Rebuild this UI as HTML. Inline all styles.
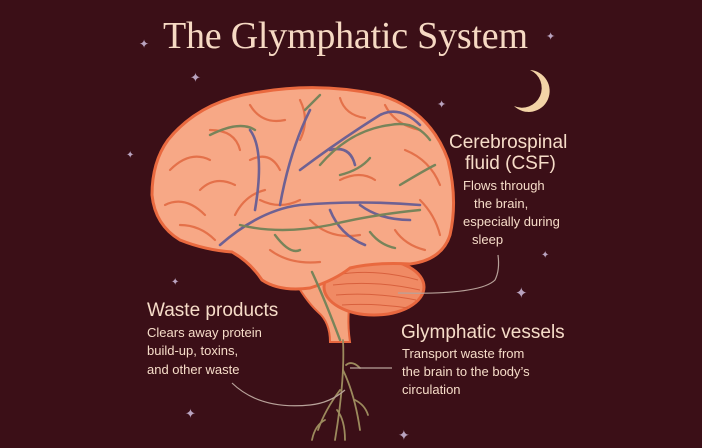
<!DOCTYPE html>
<html><head><meta charset="utf-8"><style>
html,body{margin:0;padding:0;background:#3b0f17;}
svg{display:block}
</style></head><body>
<svg width="702" height="448" viewBox="0 0 702 448" xmlns="http://www.w3.org/2000/svg">
<rect width="702" height="448" fill="#3b0f17"/>
<text x="163" y="48" font-family="Liberation Serif, serif" font-size="38" fill="#f6d9c3" textLength="365">The Glymphatic System</text>
<g fill="#b9a3bf">
<text x="139" y="48" font-size="12">✦</text>
<text x="190" y="82" font-size="13">✦</text>
<text x="546" y="40" font-size="11">✦</text>
<text x="437" y="108" font-size="11">✦</text>
<text x="126" y="158" font-size="10">✦</text>
<text x="515" y="298" font-size="15">✦</text>
<text x="541" y="258" font-size="10">✦</text>
<text x="171" y="285" font-size="10">✦</text>
<text x="185" y="418" font-size="13">✦</text>
<text x="398" y="440" font-size="14">✦</text>
</g>
<path d="M530 70 A21 21 0 1 1 514 106 A17 17 0 1 0 530 70Z" fill="#f3d3a6"/>
<!-- brainstem -->
<path d="M292 276 Q305 300 318 312 Q330 322 330 342 L350 342 Q346 315 352 290 L345 268Z" fill="#f5a37e" stroke="#e7673f" stroke-width="2"/>
<!-- cerebellum -->
<ellipse cx="374" cy="287" rx="50" ry="28" fill="#f08a64" stroke="#e7673f" stroke-width="3"/>
<g stroke="#d8603d" stroke-width="1" fill="none">
<path d="M335 275 Q375 268 418 280"/><path d="M333 285 Q375 280 420 290"/><path d="M336 295 Q375 292 416 300"/><path d="M342 305 Q375 303 408 308"/>
</g>
<!-- cerebrum -->
<path d="M168 140 Q200 100 260 92 Q320 82 380 95 Q430 110 448 160 Q458 200 450 235 Q442 260 410 264 Q375 262 350 268 Q335 280 310 288 Q280 292 262 280 Q250 262 232 252 Q205 250 180 240 Q155 225 152 195 Q152 162 168 140 Z" fill="#f7a886" stroke="#e9693f" stroke-width="3"/>
<g stroke="#e4714a" stroke-width="2.2" fill="none" stroke-linecap="round">
<path d="M170 170 Q190 150 210 160"/><path d="M165 205 Q185 195 205 215"/><path d="M200 190 Q215 175 235 185"/><path d="M210 130 Q235 130 240 150"/><path d="M250 105 Q262 125 285 120"/><path d="M300 100 Q310 120 300 140"/><path d="M340 98 Q345 115 365 118"/><path d="M385 105 Q395 125 420 130"/><path d="M405 150 Q430 160 440 185"/><path d="M420 200 Q435 215 440 235"/><path d="M395 230 Q405 245 425 250"/><path d="M260 200 Q280 210 300 200"/><path d="M310 220 Q330 240 360 235"/><path d="M270 250 Q290 265 320 262"/><path d="M180 225 Q200 225 215 240"/><path d="M235 215 Q245 195 265 190"/><path d="M340 180 Q360 170 375 180"/><path d="M250 160 Q270 150 280 170"/>
</g>
<g stroke="#6e6193" stroke-width="2.6" fill="none" stroke-linecap="round">
<path d="M220 245 Q260 210 300 205 Q360 200 420 205"/><path d="M255 210 Q265 150 250 130"/><path d="M280 205 Q290 150 310 110"/><path d="M300 170 Q340 140 380 115 Q400 105 420 125"/><path d="M330 150 Q350 145 355 165"/><path d="M360 205 Q380 220 410 220"/><path d="M330 210 Q340 235 365 245"/>
</g>
<g stroke="#78845a" stroke-width="2.4" fill="none" stroke-linecap="round">
<path d="M210 135 Q240 120 255 130"/><path d="M240 225 Q280 235 330 225 Q370 215 420 210"/><path d="M305 110 Q315 100 320 95"/><path d="M320 165 Q350 130 390 125 Q415 120 430 140"/><path d="M340 175 Q360 170 370 158"/><path d="M400 185 Q425 170 435 165"/><path d="M275 235 Q290 255 300 250"/><path d="M370 232 Q380 245 395 248"/><path d="M312 272 Q325 300 340 340"/>
</g>
<!-- roots -->
<g stroke="#9c8a5d" stroke-width="1.8" fill="none" stroke-linecap="round">
<path d="M343 340 Q345 380 335 440"/><path d="M343 370 Q355 395 360 430"/><path d="M340 390 Q325 410 318 430"/><path d="M346 365 Q352 360 360 368"/><path d="M355 400 Q365 405 368 415"/><path d="M337 410 Q345 420 345 440"/><path d="M325 420 Q315 425 312 440"/>
</g>
<!-- connectors -->
<g stroke="#b8a29a" stroke-width="1.2" fill="none">
<path d="M398 293 Q480 295 495 280 Q500 270 498 255"/>
<path d="M350 368 L392 368"/>
<path d="M232 383 Q260 410 310 405 Q330 403 345 390"/>
</g>
<g font-family="Liberation Sans, sans-serif" fill="#f6dcc8">
<text x="449" y="148" font-size="19">Cerebrospinal</text>
<text x="465" y="169" font-size="19">fluid (CSF)</text>
<text x="463" y="190" font-size="13">Flows through</text>
<text x="474" y="208" font-size="13">the brain,</text>
<text x="463" y="226" font-size="13">especially during</text>
<text x="472" y="244" font-size="13">sleep</text>
<text x="147" y="316" font-size="19">Waste products</text>
<text x="147" y="337" font-size="13">Clears away protein</text>
<text x="147" y="355" font-size="13">build-up, toxins,</text>
<text x="147" y="374" font-size="13">and other waste</text>
<text x="401" y="338" font-size="19">Glymphatic vessels</text>
<text x="402" y="358" font-size="13">Transport waste from</text>
<text x="402" y="376" font-size="13">the brain to the body’s</text>
<text x="402" y="394" font-size="13">circulation</text>
</g>
</svg>
</body></html>
